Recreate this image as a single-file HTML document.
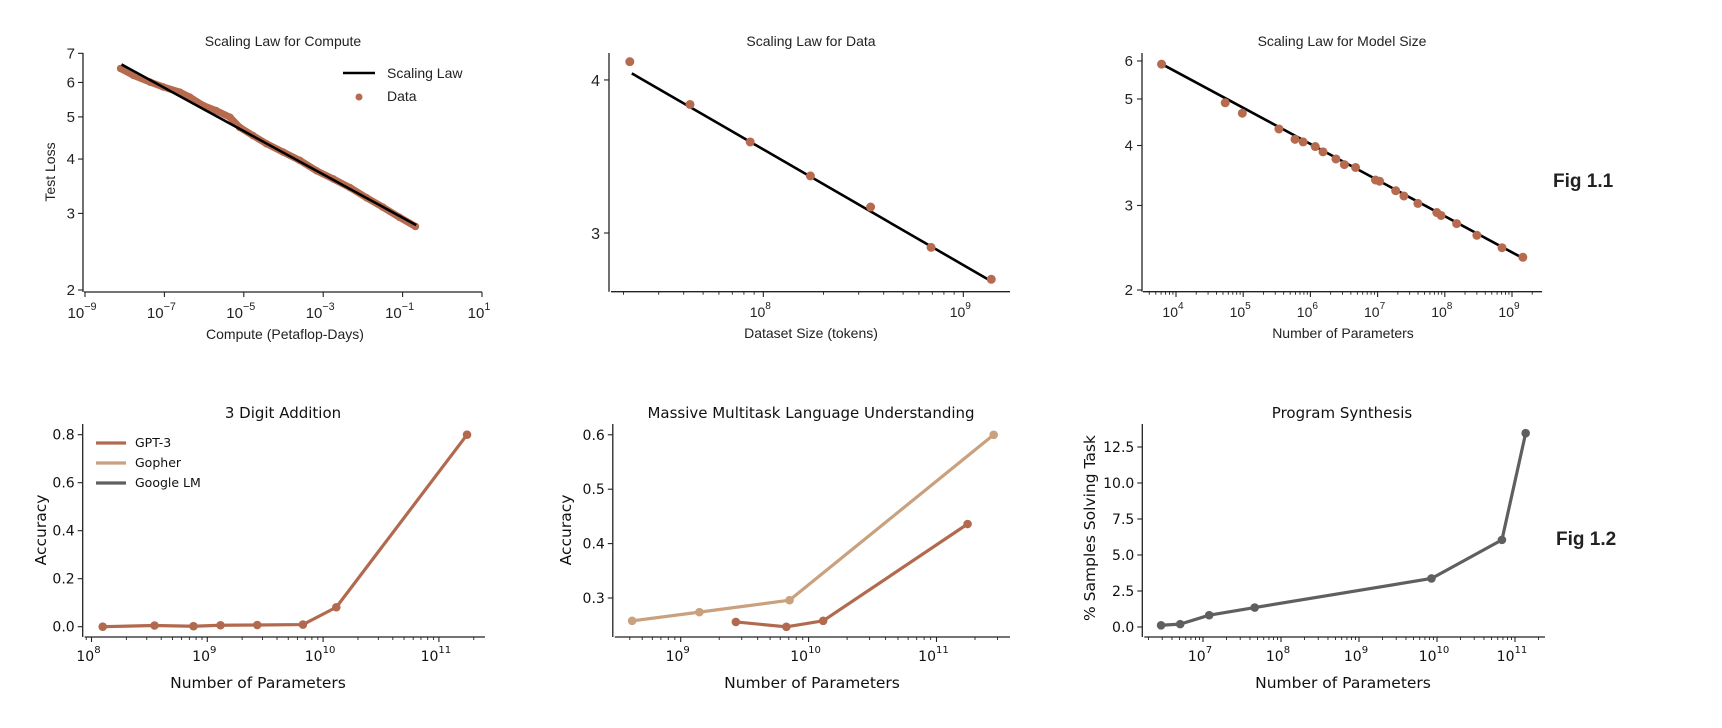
<!DOCTYPE html>
<html><head><meta charset="utf-8">
<style>
html,body{margin:0;padding:0;background:#fff;}
svg{display:block;}
.top{font-family:"Liberation Sans",Arial,sans-serif;fill:#222;}
.bot{font-family:"DejaVu Sans","Liberation Sans",sans-serif;fill:#111;}
</style></head>
<body>
<svg id="fig" width="1722" height="728" viewBox="0 0 1722 728" xmlns="http://www.w3.org/2000/svg"></svg>
<script>
// ---------- data ----------
const computeX = [7.9e-9,1.66e-8,4.4e-8,9.3e-8,2.45e-7,4.4e-7,9.5e-7,2.0e-6,4.5e-6,7.9e-6,1.7e-5,3.7e-5,9.8e-5,2.6e-4,6.8e-4,1.8e-3,4.7e-3,1.23e-2,3.2e-2,8.3e-2,0.21];
const computeY = [6.46,6.23,6.01,5.86,5.70,5.55,5.31,5.17,4.99,4.73,4.53,4.34,4.15,3.97,3.76,3.60,3.44,3.26,3.10,2.94,2.80];
const computeFitX = [8.3e-9,0.22];
const computeFitY = [6.6,2.82];
const dataTokens = [2.15e7,4.3e7,8.6e7,1.72e8,3.44e8,6.9e8,1.38e9];
const dataLoss = [4.14,3.82,3.56,3.34,3.15,2.92,2.75];
const dataFitX = [2.2e7,1.38e9];
const dataFitY = [4.05,2.74];
const modelParams = [6.1e3,5.4e4,9.7e4,3.4e5,5.9e5,7.8e5,1.18e6,1.54e6,2.4e6,3.2e6,4.7e6,9.3e6,1.07e7,1.86e7,2.46e7,3.97e7,7.6e7,8.8e7,1.5e8,3.0e8,7.1e8,1.45e9];
const modelLoss = [5.91,4.91,4.67,4.33,4.12,4.07,3.98,3.88,3.75,3.65,3.60,3.39,3.37,3.22,3.14,3.03,2.90,2.86,2.75,2.60,2.45,2.34];
const modelFitX = [6.6e3,1.45e9];
const modelFitY = [5.88,2.33];
const addParams = [1.25e8,3.5e8,7.6e8,1.3e9,2.7e9,6.7e9,1.3e10,1.75e11];
const addAcc = [0.0,0.005,0.002,0.006,0.007,0.009,0.081,0.80];
const mmluGopherParams = [4.17e8,1.4e9,7.1e9,2.8e11];
const mmluGopherAcc = [0.258,0.274,0.296,0.60];
const mmluGptParams = [2.7e9,6.7e9,1.3e10,1.75e11];
const mmluGptAcc = [0.256,0.247,0.258,0.436];
const progParams = [2.9e6,5.1e6,1.2e7,4.6e7,8.5e9,6.8e10,1.37e11];
const progPct = [0.12,0.2,0.82,1.35,3.37,6.05,13.46];
const tlYTicks = [2,3,4,5,6,7];
const tlXTicks = [-9,-7,-5,-3,-1,1];
const tmYTicks = [3,4];
const tmXTicks = [8,9];
const trYTicks = [2,3,4,5,6];
const trXTicks = [4,5,6,7,8,9];
const blYTicks = [0,0.2,0.4,0.6,0.8];
const blXTicks = [8,9,10,11];
const bmYTicks = [0.3,0.4,0.5,0.6];
const bmXTicks = [9,10,11];
const brYTicks = [0,2.5,5,7.5,10,12.5];
const brXTicks = [7,8,9,10,11];

// ---------- helpers ----------
const NS = "http://www.w3.org/2000/svg";
const svg = document.getElementById('fig');
function mk(tag, attrs, parent){
  const e = document.createElementNS(NS, tag);
  for (const k in attrs) e.setAttribute(k, attrs[k]);
  (parent||svg).appendChild(e);
  return e;
}
const L = Math.log10;
const BROWN = '#b26a4f', TAN = '#c9a17f', GREY = '#5f5f5f', DOT = '#b66b4f';

// scales
const tl = {x:v=>85+(L(v)+9)*39.7, y:v=>290-L(v/2)*435};
const tm = {x:v=>763.3+(L(v)-8)*200, y:v=>233-L(v/3)*1225};
const tr = {x:v=>1176+(L(v)-4)*67.2, y:v=>290-L(v/2)*480};
const bl = {x:v=>91.5+(L(v)-8)*115.8, y:v=>626.7-v*240};
const bm = {x:v=>680.7+(L(v)-9)*127.9, y:v=>598-(v-0.3)*544};
const br = {x:v=>1203+(L(v)-7)*78, y:v=>627-v*14.4};

function text(g, x, y, s, size, anchor, cls, extra){
  const t = mk('text', Object.assign({x:x, y:y, 'font-size':size, 'text-anchor':anchor||'middle', class:cls}, extra||{}), g);
  t.textContent = s;
  return t;
}
function powLabel(g, x, y, exp, size, cls){
  const t = mk('text', {x:x, y:y, 'font-size':size, 'text-anchor':'middle', class:cls}, g);
  const a = mk('tspan', {}, t); a.textContent = '10';
  const b = mk('tspan', {dy:-8, 'font-size':size*0.72}, t);
  b.textContent = String(exp).replace('-', '\u2212');
  return t;
}
function axes(g, x0, y0, x1, y1, name){
  const ya = mk('line', {x1:x0, y1:y0, x2:x0, y2:y1, stroke:'#222', 'stroke-width':1.3}, g);
  
  
  return ya;
}
function xAxisLine(g, x0, x1, y, name){
  const xa = mk('line', {x1:x0, y1:y, x2:x1, y2:y, stroke:'#222', 'stroke-width':1.3}, g);
  
  
}
function minorTicks(g, sc, lo, hi, xmin, xmax, y, len){
  for (let e = lo; e <= hi; e++){
    for (let m = 2; m <= 9; m++){
      const px = sc.x(m*Math.pow(10,e));
      if (px < xmin || px > xmax) continue;
      const t = mk('line', {x1:px, y1:y, x2:px, y2:y+len, stroke:'#222', 'stroke-width':0.9}, g);
      
      
    }
  }
}

// ================= TOP LEFT: compute =================
(function(){
  const g = mk('g', {});
  
  
  axes(g, 83, 53, 83, 292, 'compute');
  xAxisLine(g, 84, 482, 292, 'compute');
  tlYTicks.forEach(v=>{
    const y = tl.y(v);
    const t = mk('line', {x1:78, y1:y, x2:83, y2:y, stroke:'#222', 'stroke-width':1.1}, g);
    
    
    const lb = text(g, 75, y+5, String(v), 15, 'end', 'top');
    
    
  });
  tlXTicks.forEach(e=>{
    const x = tl.x(Math.pow(10,e));
    const t = mk('line', {x1:x, y1:292, x2:x, y2:297, stroke:'#222', 'stroke-width':1.1}, g);
    
    
    const lb = powLabel(g, x-3, 318, e, 15, 'top');
    
    
  });
  // data band
  const pts = computeX.map((v,i)=>tl.x(v)+','+tl.y(computeY[i])).join(' ');
  const band = mk('polyline', {points:pts, fill:'none', stroke:DOT, 'stroke-width':7, 'stroke-linejoin':'round', 'stroke-linecap':'round'}, g);
  
  
  computeX.forEach((v,i)=>{
    const c = mk('circle', {cx:tl.x(v), cy:tl.y(computeY[i]), r:3.8, fill:DOT}, g);
    
    
  });
  const fit = mk('line', {x1:tl.x(computeFitX[0]), y1:tl.y(computeFitY[0]), x2:tl.x(computeFitX[1]), y2:tl.y(computeFitY[1]), stroke:'#000', 'stroke-width':2.6}, g);
  
  
  const tt = text(g, 283, 46, 'Scaling Law for Compute', 14, 'middle', 'top');
  
  
  const xl = text(g, 285, 339, 'Compute (Petaflop-Days)', 14, 'middle', 'top');
  
  
  const yl = text(g, 0, 0, 'Test Loss', 14, 'middle', 'top', {transform:'translate(55,172) rotate(-90)'});
  
  
  const lg = mk('g', {}, g);
  
  
  const ll = mk('line', {x1:343, y1:73, x2:375, y2:73, stroke:'#000', 'stroke-width':2.6}, lg);
  
  
  const lt = text(lg, 387, 78, 'Scaling Law', 14, 'start', 'top');
  
  
  const ld = mk('circle', {cx:359, cy:97, r:3.5, fill:DOT}, lg);
  
  
  const lt2 = text(lg, 387, 101, 'Data', 14, 'start', 'top');
  
  
})();

// ================= TOP MIDDLE: data =================
(function(){
  const g = mk('g', {});
  
  
  axes(g, 609, 53, 609, 291.7, 'data');
  xAxisLine(g, 611, 1010, 291.7, 'data');
  tmYTicks.forEach(v=>{
    const y = tm.y(v);
    const t = mk('line', {x1:604, y1:y, x2:609, y2:y, stroke:'#222', 'stroke-width':1.1}, g);
    
    
    const lb = text(g, 600, y+6, String(v), 16, 'end', 'top');
    
    
  });
  minorTicks(g, tm, 7, 9, 611, 1010, 291.7, 3);
  tmXTicks.forEach(e=>{
    const x = tm.x(Math.pow(10,e));
    const t = mk('line', {x1:x, y1:291.7, x2:x, y2:297, stroke:'#222', 'stroke-width':1.1}, g);
    
    
    const lb = powLabel(g, x-3, 317, e, 14, 'top');
    
    
  });
  const fit = mk('line', {x1:tm.x(dataFitX[0]), y1:tm.y(dataFitY[0]), x2:tm.x(dataFitX[1]), y2:tm.y(dataFitY[1]), stroke:'#000', 'stroke-width':2.6}, g);
  
  
  dataTokens.forEach((v,i)=>{
    const c = mk('circle', {cx:tm.x(v), cy:tm.y(dataLoss[i]), r:4.5, fill:DOT}, g);
    
    
  });
  const tt = text(g, 811, 46, 'Scaling Law for Data', 14, 'middle', 'top');
  
  
  const xl = text(g, 811, 338, 'Dataset Size (tokens)', 14, 'middle', 'top');
  
  
})();

// ================= TOP RIGHT: model size =================
(function(){
  const g = mk('g', {});
  
  
  axes(g, 1142, 53, 1142, 291.7, 'model-size');
  xAxisLine(g, 1143, 1542, 291.7, 'model-size');
  trYTicks.forEach(v=>{
    const y = tr.y(v);
    const t = mk('line', {x1:1137, y1:y, x2:1142, y2:y, stroke:'#222', 'stroke-width':1.1}, g);
    
    
    const lb = text(g, 1133, y+5, String(v), 15, 'end', 'top');
    
    
  });
  minorTicks(g, tr, 3, 9, 1143, 1542, 291.7, 3);
  trXTicks.forEach(e=>{
    const x = tr.x(Math.pow(10,e));
    const t = mk('line', {x1:x, y1:291.7, x2:x, y2:297, stroke:'#222', 'stroke-width':1.1}, g);
    
    
    const lb = powLabel(g, x-3, 317, e, 14, 'top');
    
    
  });
  const fit = mk('line', {x1:tr.x(modelFitX[0]), y1:tr.y(modelFitY[0]), x2:tr.x(modelFitX[1]), y2:tr.y(modelFitY[1]), stroke:'#000', 'stroke-width':2.6}, g);
  
  
  modelParams.forEach((v,i)=>{
    const c = mk('circle', {cx:tr.x(v), cy:tr.y(modelLoss[i]), r:4.5, fill:DOT}, g);
    
    
  });
  const tt = text(g, 1342, 46, 'Scaling Law for Model Size', 14, 'middle', 'top');
  
  
  const xl = text(g, 1343, 338, 'Number of Parameters', 14, 'middle', 'top');
  
  
  const f = text(g, 1553, 187, 'Fig 1.1', 19, 'start', 'top', {'font-weight':'bold', fill:'#000'});
  
  
})();

// ---------- bottom helpers ----------
function series(g, sc, xs, ys, color, name){
  const pts = xs.map((v,i)=>sc.x(v)+','+sc.y(ys[i])).join(' ');
  const pl = mk('polyline', {points:pts, fill:'none', stroke:color, 'stroke-width':3.2, 'stroke-linejoin':'round'}, g);
  
  
  xs.forEach((v,i)=>{
    const c = mk('circle', {cx:sc.x(v), cy:sc.y(ys[i]), r:4.3, fill:color}, g);
    
    
  });
}
function bottomAxes(g, sc, yx, ytop, xEnd, yTicks, yFmt, xTicks, name){
  axes(g, yx, ytop, yx, 637, name);
  xAxisLine(g, yx+2, xEnd, 637, name);
  yTicks.forEach(v=>{
    const y = sc.y(v);
    const t = mk('line', {x1:yx-5, y1:y, x2:yx, y2:y, stroke:'#222', 'stroke-width':1.1}, g);
    
    
    const lb = text(g, yx-8, y+5, yFmt(v), 14, 'end', 'bot');
    
    
  });
  minorTicks(g, sc, 5, 11, yx+2, xEnd, 637, 3);
  xTicks.forEach(e=>{
    const x = sc.x(Math.pow(10,e));
    const t = mk('line', {x1:x, y1:637, x2:x, y2:642, stroke:'#222', 'stroke-width':1.1}, g);
    
    
    const lb = powLabel(g, x-3, 661, e, 14, 'bot');
    
    
  });
}

// ================= BOTTOM LEFT: 3 digit addition =================
(function(){
  const g = mk('g', {});
  
  
  bottomAxes(g, bl, 82.7, 424, 485, blYTicks, v=>v.toFixed(1), blXTicks, 'addition');
  series(g, bl, addParams, addAcc, BROWN, 'gpt3-addition');
  const tt = text(g, 283, 418, '3 Digit Addition', 15, 'middle', 'bot');
  
  
  const xl = text(g, 258, 688, 'Number of Parameters', 15.5, 'middle', 'bot');
  
  
  const yl = text(g, 0, 0, 'Accuracy', 15.5, 'middle', 'bot', {transform:'translate(46,530) rotate(-90)'});
  
  
  const lg = mk('g', {}, g);
  
  
  const l1 = mk('line', {x1:96, y1:443, x2:126, y2:443, stroke:BROWN, 'stroke-width':3.2}, lg);
  
  
  const t1 = text(lg, 135, 447, 'GPT-3', 12.5, 'start', 'bot');
  
  
  const l2 = mk('line', {x1:96, y1:463, x2:126, y2:463, stroke:TAN, 'stroke-width':3.2}, lg);
  
  
  const t2 = text(lg, 135, 467, 'Gopher', 12.5, 'start', 'bot');
  
  
  const l3 = mk('line', {x1:96, y1:483, x2:126, y2:483, stroke:GREY, 'stroke-width':3.2}, lg);
  
  
  const t3 = text(lg, 135, 487, 'Google LM', 12.5, 'start', 'bot');
  
  
})();

// ================= BOTTOM MIDDLE: MMLU =================
(function(){
  const g = mk('g', {});
  
  
  bottomAxes(g, bm, 612.8, 424, 1010, bmYTicks, v=>v.toFixed(1), bmXTicks, 'mmlu');
  series(g, bm, mmluGopherParams, mmluGopherAcc, TAN, 'gopher-mmlu');
  series(g, bm, mmluGptParams, mmluGptAcc, BROWN, 'gpt3-mmlu');
  const tt = text(g, 811, 418, 'Massive Multitask Language Understanding', 15, 'middle', 'bot');
  
  
  const xl = text(g, 812, 688, 'Number of Parameters', 15.5, 'middle', 'bot');
  
  
  const yl = text(g, 0, 0, 'Accuracy', 15.5, 'middle', 'bot', {transform:'translate(571,530) rotate(-90)'});
  
  
})();

// ================= BOTTOM RIGHT: program synthesis =================
(function(){
  const g = mk('g', {});
  
  
  bottomAxes(g, br, 1142.3, 424, 1545, brYTicks, v=>v.toFixed(1), brXTicks, 'program-synthesis');
  series(g, br, progParams, progPct, GREY, 'google-lm-program');
  const tt = text(g, 1342, 418, 'Program Synthesis', 15, 'middle', 'bot');
  
  
  const xl = text(g, 1343, 688, 'Number of Parameters', 15.5, 'middle', 'bot');
  
  
  const yl = text(g, 0, 0, '% Samples Solving Task', 15.5, 'middle', 'bot', {transform:'translate(1095,528) rotate(-90)'});
  
  
  const f = text(g, 1556, 545, 'Fig 1.2', 19, 'start', 'top', {'font-weight':'bold', fill:'#000'});
  
  
})();
</script>
</body></html>
